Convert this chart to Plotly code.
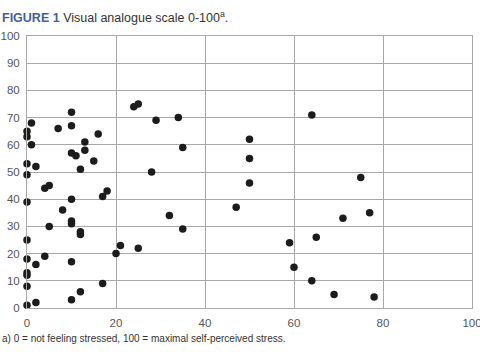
import plotly.graph_objects as go

x_vals = [0, 2, 0, 0, 0, 0, 2, 4, 10, 0, 5, 10, 10, 12, 12, 8, 10, 0, 4, 5,
          17, 18, 20, 21, 17, 12, 10, 0, 12, 0, 0, 1, 1, 0, 2, 7, 10, 10, 10, 11,
          13, 13, 16, 15, 24, 25, 29, 34, 35, 28, 32, 35, 25, 64, 50, 50, 50, 47,
          75, 77, 71, 65, 59, 60, 64, 69, 78]
y_vals = [1, 2, 8, 12, 13, 18, 16, 19, 17, 25, 30, 32, 31, 28, 27, 36, 40, 39, 44, 45,
          41, 43, 20, 23, 9, 6, 3, 49, 51, 65, 63, 68, 60, 53, 52, 66, 72, 67, 57, 56,
          61, 58, 64, 54, 74, 75, 69, 70, 59, 50, 34, 29, 22, 71, 62, 55, 46, 37,
          48, 35, 33, 26, 24, 15, 10, 5, 4]

x_ticks = [0, 20, 40, 60, 80, 100]
y_ticks = [0, 10, 20, 30, 40, 50, 60, 70, 80, 90, 100]

title_html = ("<b><span style='color:#3f5f9f'>FIGURE 1</span></b> "
              "Visual analogue scale 0-100<sup style='font-size:7px'>a</sup>.")
footnote = "a) 0 = not feeling stressed, 100 = maximal self-perceived stress."

fig = go.Figure()
fig.add_trace(go.Scatter(
    x=x_vals, y=y_vals, mode="markers",
    marker=dict(size=7.5, color="#1c1c1c"),
    cliponaxis=False, hoverinfo="skip", showlegend=False,
))

axis_font = dict(family="Liberation Sans, Arial, sans-serif", size=11.5, color="#555555")

fig.update_layout(
    width=480, height=352,
    margin=dict(l=27, r=8, t=36, b=44),
    paper_bgcolor="white", plot_bgcolor="white",
    xaxis=dict(range=[0, 100], tickvals=x_ticks, showgrid=True, automargin=False,
               gridcolor="#a8a8a8", gridwidth=1, zeroline=False,
               showline=True, linecolor="#a8a8a8", linewidth=1, mirror=True,
               ticks="", tickfont=axis_font, ticklabelstandoff=4,
               ticklabeloverflow="allow", fixedrange=True),
    yaxis=dict(range=[0, 100], tickvals=y_ticks, showgrid=True, automargin=False,
               gridcolor="#a8a8a8", gridwidth=1, zeroline=False,
               showline=True, linecolor="#a8a8a8", linewidth=1, mirror=True,
               ticks="", tickfont=axis_font, ticklabelstandoff=4,
               ticklabeloverflow="allow", fixedrange=True),
    annotations=[
        dict(text=title_html, xref="paper", yref="paper", x=-27/445, y=(308-17)/272,
             xanchor="left", yanchor="middle", showarrow=False,
             font=dict(family="Liberation Sans, Arial, sans-serif", size=12.5, color="#333333")),
        dict(text=footnote, xref="paper", yref="paper", x=-27/445, y=(308-338)/272,
             xanchor="left", yanchor="middle", showarrow=False,
             font=dict(family="Liberation Sans, Arial, sans-serif", size=10, color="#333333")),
    ],
)

fig.write_html("out.html")
